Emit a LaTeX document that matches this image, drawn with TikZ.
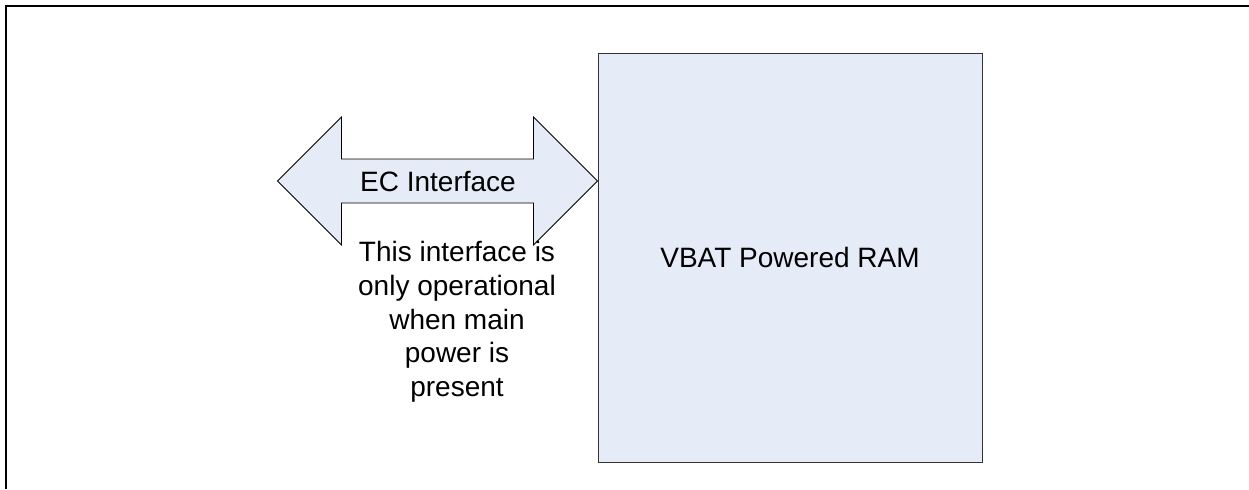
\documentclass[tikz,border=0pt]{standalone}
\usepackage{fontspec}
\setmainfont{Liberation Sans}
\usetikzlibrary{positioning}

\definecolor{ramblue}{RGB}{230,236,247}

\begin{document}
\begin{tikzpicture}[
        x=0.5pt, y=-0.5pt,
        box/.style={draw=black!80, line width=0.5pt, rectangle, fill=ramblue, align=center, minimum width=192pt, minimum height=204.5pt, inner sep=0pt, font=\fontsize{14}{16.85}\selectfont},
        arrowbody/.style={draw=black, line width=0.4pt, fill=ramblue, line join=miter},
        label/.style={align=center, inner sep=0pt, font=\fontsize{14}{16.85}\selectfont}
    ]
    \useasboundingbox (0,0) rectangle (1249,489);
    \draw[line width=1pt] (6,489) -- (6,6) -- (1249,6);

    \node[box] (ram) at (790,257.5) {VBAT Powered RAM};
    \coordinate (ectip) at (ram.west |- 0,181);

    \draw[arrowbody] (ectip) -- ++(-64,64) -- ++(0,-42) -- ++(-192,0) -- ++(0,42)
        -- ++(-64,-64) -- ++(64,-64) -- ++(0,42) -- ++(192,0) -- ++(0,-42) -- cycle;

    \node[label] (ecif) at (438,181) {EC Interface};
    \node[label] (note) at (457,322) {This interface is\\only operational\\when main\\power is\\present};
\end{tikzpicture}
\end{document}
